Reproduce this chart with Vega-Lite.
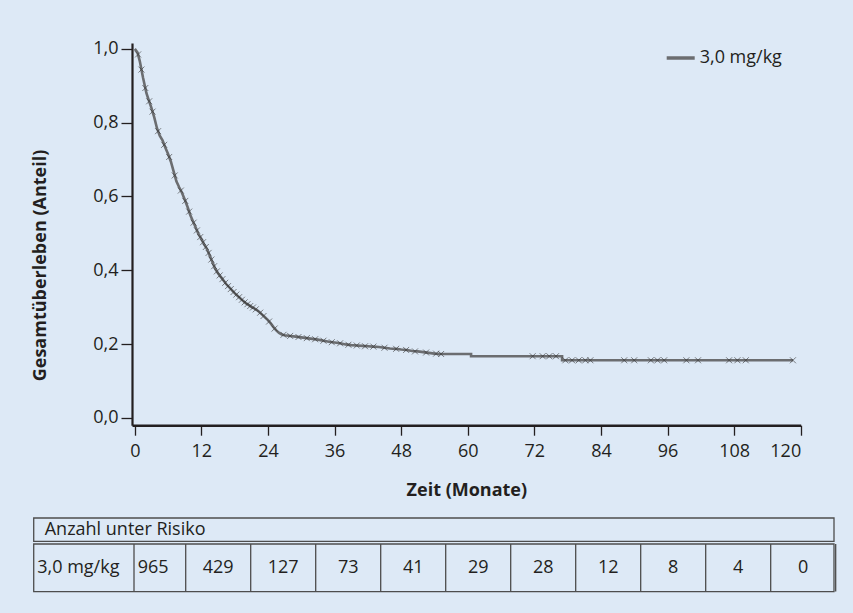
{
  "$schema": "https://vega.github.io/schema/vega-lite/v6.json",
  "background": "#dde9f6",
  "padding": {"left": 31, "top": 39, "right": 18, "bottom": 23},
  "config": {
    "font": "Open Sans",
    "view": {"stroke": null},
    "axis": {
      "labelFont": "Open Sans", "titleFont": "Open Sans",
      "labelColor": "#231f20", "titleColor": "#231f20",
      "domainColor": "#231f20", "tickColor": "#231f20", "grid": false
    },
    "text": {"font": "Open Sans", "color": "#231f20"}
  },
  "datasets": {
    "curve": [
      {"group": "3,0 mg/kg", "t": 0, "s": 1.0},
      {"group": "3,0 mg/kg", "t": 0.5, "s": 0.99},
      {"group": "3,0 mg/kg", "t": 0.9, "s": 0.967},
      {"group": "3,0 mg/kg", "t": 1.5, "s": 0.921},
      {"group": "3,0 mg/kg", "t": 2.1, "s": 0.88},
      {"group": "3,0 mg/kg", "t": 2.5, "s": 0.862},
      {"group": "3,0 mg/kg", "t": 3, "s": 0.84},
      {"group": "3,0 mg/kg", "t": 3.5, "s": 0.815},
      {"group": "3,0 mg/kg", "t": 4, "s": 0.785},
      {"group": "3,0 mg/kg", "t": 4.5, "s": 0.765},
      {"group": "3,0 mg/kg", "t": 5, "s": 0.752},
      {"group": "3,0 mg/kg", "t": 5.5, "s": 0.733},
      {"group": "3,0 mg/kg", "t": 6, "s": 0.715},
      {"group": "3,0 mg/kg", "t": 6.5, "s": 0.695},
      {"group": "3,0 mg/kg", "t": 7, "s": 0.668},
      {"group": "3,0 mg/kg", "t": 7.5, "s": 0.641},
      {"group": "3,0 mg/kg", "t": 8, "s": 0.625},
      {"group": "3,0 mg/kg", "t": 8.5, "s": 0.61},
      {"group": "3,0 mg/kg", "t": 9, "s": 0.592},
      {"group": "3,0 mg/kg", "t": 9.5, "s": 0.572},
      {"group": "3,0 mg/kg", "t": 10, "s": 0.55},
      {"group": "3,0 mg/kg", "t": 10.5, "s": 0.532},
      {"group": "3,0 mg/kg", "t": 11, "s": 0.515},
      {"group": "3,0 mg/kg", "t": 11.5, "s": 0.497},
      {"group": "3,0 mg/kg", "t": 12, "s": 0.485},
      {"group": "3,0 mg/kg", "t": 12.5, "s": 0.47},
      {"group": "3,0 mg/kg", "t": 13, "s": 0.458},
      {"group": "3,0 mg/kg", "t": 13.5, "s": 0.44},
      {"group": "3,0 mg/kg", "t": 14, "s": 0.422},
      {"group": "3,0 mg/kg", "t": 14.5, "s": 0.404},
      {"group": "3,0 mg/kg", "t": 15, "s": 0.392},
      {"group": "3,0 mg/kg", "t": 15.5, "s": 0.382},
      {"group": "3,0 mg/kg", "t": 16, "s": 0.372},
      {"group": "3,0 mg/kg", "t": 16.5, "s": 0.362},
      {"group": "3,0 mg/kg", "t": 17, "s": 0.354},
      {"group": "3,0 mg/kg", "t": 17.5, "s": 0.346},
      {"group": "3,0 mg/kg", "t": 18, "s": 0.338},
      {"group": "3,0 mg/kg", "t": 18.5, "s": 0.331},
      {"group": "3,0 mg/kg", "t": 19, "s": 0.324},
      {"group": "3,0 mg/kg", "t": 19.5, "s": 0.317},
      {"group": "3,0 mg/kg", "t": 20, "s": 0.311},
      {"group": "3,0 mg/kg", "t": 20.5, "s": 0.306},
      {"group": "3,0 mg/kg", "t": 21, "s": 0.301},
      {"group": "3,0 mg/kg", "t": 21.5, "s": 0.297},
      {"group": "3,0 mg/kg", "t": 22, "s": 0.292},
      {"group": "3,0 mg/kg", "t": 22.5, "s": 0.286},
      {"group": "3,0 mg/kg", "t": 23, "s": 0.279},
      {"group": "3,0 mg/kg", "t": 23.5, "s": 0.272},
      {"group": "3,0 mg/kg", "t": 24, "s": 0.265},
      {"group": "3,0 mg/kg", "t": 24.5, "s": 0.256},
      {"group": "3,0 mg/kg", "t": 25, "s": 0.246},
      {"group": "3,0 mg/kg", "t": 25.5, "s": 0.237},
      {"group": "3,0 mg/kg", "t": 26, "s": 0.23},
      {"group": "3,0 mg/kg", "t": 26.5, "s": 0.226},
      {"group": "3,0 mg/kg", "t": 27, "s": 0.224},
      {"group": "3,0 mg/kg", "t": 28, "s": 0.222},
      {"group": "3,0 mg/kg", "t": 29, "s": 0.22},
      {"group": "3,0 mg/kg", "t": 30, "s": 0.218},
      {"group": "3,0 mg/kg", "t": 31, "s": 0.216},
      {"group": "3,0 mg/kg", "t": 32, "s": 0.214},
      {"group": "3,0 mg/kg", "t": 33, "s": 0.212},
      {"group": "3,0 mg/kg", "t": 34, "s": 0.209},
      {"group": "3,0 mg/kg", "t": 35, "s": 0.206},
      {"group": "3,0 mg/kg", "t": 36, "s": 0.204},
      {"group": "3,0 mg/kg", "t": 37, "s": 0.202},
      {"group": "3,0 mg/kg", "t": 38, "s": 0.199},
      {"group": "3,0 mg/kg", "t": 39, "s": 0.197},
      {"group": "3,0 mg/kg", "t": 40, "s": 0.196},
      {"group": "3,0 mg/kg", "t": 41, "s": 0.195},
      {"group": "3,0 mg/kg", "t": 42, "s": 0.194},
      {"group": "3,0 mg/kg", "t": 43, "s": 0.193},
      {"group": "3,0 mg/kg", "t": 44, "s": 0.192},
      {"group": "3,0 mg/kg", "t": 45, "s": 0.19},
      {"group": "3,0 mg/kg", "t": 46, "s": 0.188},
      {"group": "3,0 mg/kg", "t": 47, "s": 0.187},
      {"group": "3,0 mg/kg", "t": 48, "s": 0.185},
      {"group": "3,0 mg/kg", "t": 49, "s": 0.184},
      {"group": "3,0 mg/kg", "t": 50, "s": 0.181},
      {"group": "3,0 mg/kg", "t": 51, "s": 0.18},
      {"group": "3,0 mg/kg", "t": 52, "s": 0.178},
      {"group": "3,0 mg/kg", "t": 53, "s": 0.176},
      {"group": "3,0 mg/kg", "t": 54, "s": 0.174},
      {"group": "3,0 mg/kg", "t": 55, "s": 0.173},
      {"group": "3,0 mg/kg", "t": 60.6, "s": 0.173},
      {"group": "3,0 mg/kg", "t": 60.6, "s": 0.167},
      {"group": "3,0 mg/kg", "t": 77, "s": 0.167},
      {"group": "3,0 mg/kg", "t": 77, "s": 0.156},
      {"group": "3,0 mg/kg", "t": 118.6, "s": 0.156}
    ],
    "censor": [
      {"t": 0.6, "s": 0.985}, {"t": 1.2, "s": 0.944}, {"t": 1.9, "s": 0.894}, {"t": 2.6, "s": 0.858},
      {"t": 3.2, "s": 0.83}, {"t": 4.2, "s": 0.777}, {"t": 5.3, "s": 0.74}, {"t": 6.2, "s": 0.707},
      {"t": 7.2, "s": 0.657}, {"t": 8.3, "s": 0.616}, {"t": 9.1, "s": 0.588}, {"t": 9.8, "s": 0.559},
      {"t": 10.6, "s": 0.529}, {"t": 11.2, "s": 0.508}, {"t": 11.8, "s": 0.49}, {"t": 12.3, "s": 0.476},
      {"t": 12.8, "s": 0.463}, {"t": 13.3, "s": 0.447}, {"t": 13.8, "s": 0.429}, {"t": 14.3, "s": 0.411},
      {"t": 14.8, "s": 0.397}, {"t": 15.3, "s": 0.386}, {"t": 15.8, "s": 0.376}, {"t": 16.3, "s": 0.366},
      {"t": 16.8, "s": 0.357}, {"t": 17.3, "s": 0.349}, {"t": 17.8, "s": 0.341}, {"t": 18.3, "s": 0.334},
      {"t": 18.8, "s": 0.327}, {"t": 19.3, "s": 0.32}, {"t": 19.8, "s": 0.313}, {"t": 20.3, "s": 0.308},
      {"t": 20.8, "s": 0.303}, {"t": 21.3, "s": 0.299}, {"t": 21.8, "s": 0.294}, {"t": 22.6, "s": 0.285},
      {"t": 23.2, "s": 0.276}, {"t": 24.2, "s": 0.261}, {"t": 25.2, "s": 0.242}, {"t": 26.8, "s": 0.225},
      {"t": 28, "s": 0.222}, {"t": 29.5, "s": 0.219}, {"t": 31, "s": 0.216}, {"t": 32.5, "s": 0.213},
      {"t": 34, "s": 0.209}, {"t": 35.5, "s": 0.205}, {"t": 37, "s": 0.202}, {"t": 38.5, "s": 0.198},
      {"t": 40, "s": 0.196}, {"t": 41.5, "s": 0.194}, {"t": 43, "s": 0.193}, {"t": 45, "s": 0.19},
      {"t": 47.1, "s": 0.187}, {"t": 48.9, "s": 0.184}, {"t": 50.5, "s": 0.18}, {"t": 52.5, "s": 0.177},
      {"t": 54.3, "s": 0.174}, {"t": 55.2, "s": 0.173}, {"t": 71.7, "s": 0.167}, {"t": 73.5, "s": 0.167},
      {"t": 74.7, "s": 0.167}, {"t": 75.9, "s": 0.167}, {"t": 77.6, "s": 0.156}, {"t": 78.8, "s": 0.156},
      {"t": 80, "s": 0.156}, {"t": 81.2, "s": 0.156}, {"t": 82.1, "s": 0.156}, {"t": 88.2, "s": 0.156},
      {"t": 90, "s": 0.156}, {"t": 93, "s": 0.156}, {"t": 94.2, "s": 0.156}, {"t": 95.4, "s": 0.156},
      {"t": 99.4, "s": 0.156}, {"t": 101.5, "s": 0.156}, {"t": 107.1, "s": 0.156}, {"t": 108.6, "s": 0.156},
      {"t": 110.1, "s": 0.156}, {"t": 118.6, "s": 0.156}
    ],
    "header": [{"label": "Anzahl unter Risiko"}],
    "risk": [
      {"group": "3,0 mg/kg", "month": 0, "n": 965},
      {"group": "3,0 mg/kg", "month": 12, "n": 429},
      {"group": "3,0 mg/kg", "month": 24, "n": 127},
      {"group": "3,0 mg/kg", "month": 36, "n": 73},
      {"group": "3,0 mg/kg", "month": 48, "n": 41},
      {"group": "3,0 mg/kg", "month": 60, "n": 29},
      {"group": "3,0 mg/kg", "month": 72, "n": 28},
      {"group": "3,0 mg/kg", "month": 84, "n": 12},
      {"group": "3,0 mg/kg", "month": 96, "n": 8},
      {"group": "3,0 mg/kg", "month": 108, "n": 4},
      {"group": "3,0 mg/kg", "month": 120, "n": 0}
    ]
  },
  "spacing": 17,
  "vconcat": [
    {
      "width": 668.7,
      "height": 382.2,
      "layer": [
        {
          "data": {"name": "curve"},
          "mark": {"type": "line", "interpolate": "linear", "strokeWidth": 2.6},
          "encoding": {
            "x": {
              "field": "t", "type": "quantitative",
              "scale": {"domain": [-0.5, 120], "nice": false, "zero": false},
              "axis": {
                "values": [0, 12, 24, 36, 48, 60, 72, 84, 96, 108, 120],
                "format": "d",
                "title": "Zeit (Monate)",
                "domainWidth": 2.6, "tickSize": 10, "tickWidth": 1.3,
                "labelFontSize": 18, "labelPadding": 7,
                "titleFontSize": 18, "titleFontWeight": "bold", "titlePadding": 21
              }
            },
            "y": {
              "field": "s", "type": "quantitative",
              "scale": {"domain": [-0.02, 1.016], "nice": false, "zero": false},
              "axis": {
                "values": [0, 0.2, 0.4, 0.6, 0.8, 1.0],
                "labelExpr": "replace(format(datum.value, '.1f'), '.', ',')",
                "title": "Gesamtüberleben (Anteil)",
                "domainWidth": 2.2, "tickSize": 11, "tickWidth": 1.3,
                "labelFontSize": 18, "labelPadding": 3,
                "titleFontSize": 18, "titleFontWeight": "bold",
                "titleAngle": 270, "titleX": -92, "titleY": 222,
                "titleAlign": "center", "titleBaseline": "middle"
              }
            },
            "color": {
              "field": "group", "type": "nominal",
              "scale": {"range": ["#6b6d70"]},
              "legend": {
                "orient": "none", "legendX": 532.7, "legendY": -1,
                "title": null, "symbolType": "stroke", "symbolSize": 784,
                "symbolStrokeWidth": 3.5, "labelFontSize": 18, "labelFont": "Open Sans",
                "labelColor": "#231f20", "labelOffset": 3, "padding": 0
              }
            }
          }
        },
        {
          "data": {"name": "censor"},
          "mark": {
            "type": "point", "shape": "M-1,-1L1,1M-1,1L1,-1", "filled": false,
            "size": 36, "stroke": "#333333", "strokeWidth": 1, "opacity": 0.6
          },
          "encoding": {
            "x": {"field": "t", "type": "quantitative"},
            "y": {"field": "s", "type": "quantitative"}
          }
        }
      ]
    },
    {
      "spacing": 0,
      "vconcat": [
        {
          "width": 702,
          "height": 23.4,
          "data": {"name": "header"},
          "layer": [
            {
              "mark": {"type": "rect", "filled": false, "color": "#4d4d4d", "strokeWidth": 1.3},
              "encoding": {
                "x": {"datum": -22.06, "type": "quantitative", "scale": {"domain": [-3.914, 125.69], "nice": false, "zero": false}, "axis": null},
                "x2": {"datum": 125.69}
              }
            },
            {
              "mark": {"type": "text", "align": "left", "baseline": "middle", "dx": 11, "fontSize": 18, "color": "#231f20"},
              "encoding": {
                "x": {"datum": -22.06, "type": "quantitative"},
                "text": {"field": "label"}
              }
            }
          ]
        },
        {
          "width": 702,
          "height": 47.6,
          "data": {"name": "risk"},
          "layer": [
            {
              "transform": [{"filter": "datum.month == 0"}],
              "mark": {"type": "rect", "filled": false, "color": "#4d4d4d", "strokeWidth": 1.3},
              "encoding": {
                "x": {"datum": -22.06, "type": "quantitative", "scale": {"domain": [-3.914, 125.69], "nice": false, "zero": false}, "axis": null},
                "x2": {"datum": 125.69}
              }
            },
            {
              "mark": {"type": "rule", "color": "#4d4d4d", "strokeWidth": 1.3, "xOffset": 32.5},
              "encoding": {"x": {"field": "month", "type": "quantitative"}}
            },
            {
              "transform": [{"filter": "datum.month == 0"}],
              "mark": {"type": "rule", "color": "#4d4d4d", "strokeWidth": 1.3, "xOffset": -19.2},
              "encoding": {"x": {"field": "month", "type": "quantitative"}}
            },
            {
              "transform": [{"filter": "datum.month == 0"}],
              "mark": {"type": "text", "align": "left", "baseline": "middle", "dx": 3.5, "fontSize": 18, "color": "#231f20"},
              "encoding": {
                "x": {"datum": -22.06, "type": "quantitative"},
                "text": {"field": "group"}
              }
            },
            {
              "mark": {"type": "text", "align": "center", "baseline": "middle", "fontSize": 18, "color": "#231f20"},
              "encoding": {
                "x": {"field": "month", "type": "quantitative"},
                "text": {"field": "n"}
              }
            }
          ]
        }
      ]
    }
  ]
}
